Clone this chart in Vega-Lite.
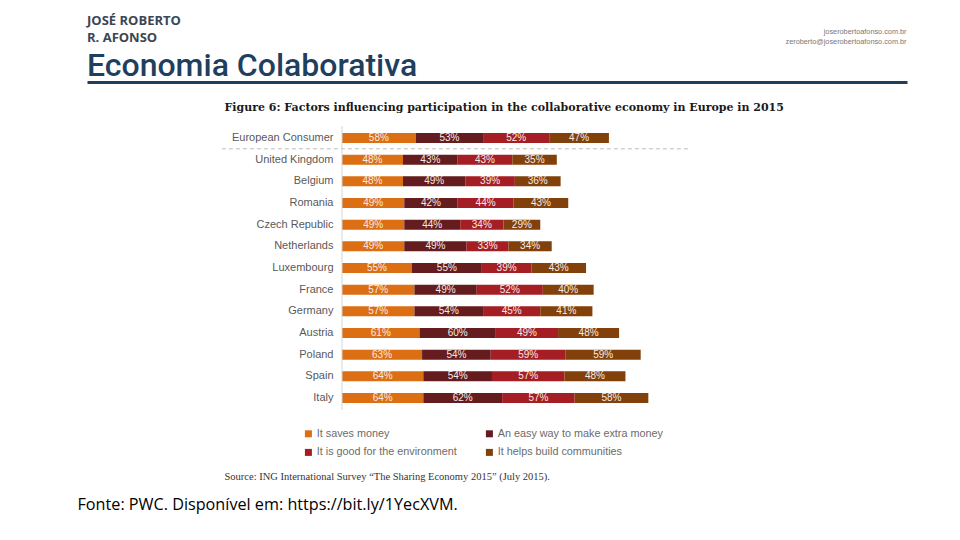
{
  "$schema": "https://vega.github.io/schema/vega-lite/v6.json",
  "width": 820,
  "height": 418,
  "autosize": {"type": "none"},
  "padding": {"left": 87, "top": 82, "right": 53, "bottom": 40},
  "background": "#ffffff",
  "config": {"view": {"stroke": null}},
  "title": {
    "text": ["JOSÉ ROBERTO", "R. AFONSO"],
    "subtitle": "Economia Colaborativa",
    "anchor": "start",
    "frame": "group",
    "font": "Open Sans",
    "fontSize": 13,
    "fontWeight": "bold",
    "color": "#3a4655",
    "lineHeight": 17,
    "subtitleFont": "Roboto",
    "subtitleFontSize": 32,
    "subtitleFontWeight": 500,
    "subtitleColor": "#1f3f5f",
    "subtitlePadding": 6,
    "offset": -55
  },
  "data": {
    "values": [
      {"country": "European Consumer", "factor": "It saves money", "k": 1, "value": 58},
      {"country": "European Consumer", "factor": "An easy way to make extra money", "k": 2, "value": 53},
      {"country": "European Consumer", "factor": "It is good for the environment", "k": 3, "value": 52},
      {"country": "European Consumer", "factor": "It helps build communities", "k": 4, "value": 47},
      {"country": "United Kingdom", "factor": "It saves money", "k": 1, "value": 48},
      {"country": "United Kingdom", "factor": "An easy way to make extra money", "k": 2, "value": 43},
      {"country": "United Kingdom", "factor": "It is good for the environment", "k": 3, "value": 43},
      {"country": "United Kingdom", "factor": "It helps build communities", "k": 4, "value": 35},
      {"country": "Belgium", "factor": "It saves money", "k": 1, "value": 48},
      {"country": "Belgium", "factor": "An easy way to make extra money", "k": 2, "value": 49},
      {"country": "Belgium", "factor": "It is good for the environment", "k": 3, "value": 39},
      {"country": "Belgium", "factor": "It helps build communities", "k": 4, "value": 36},
      {"country": "Romania", "factor": "It saves money", "k": 1, "value": 49},
      {"country": "Romania", "factor": "An easy way to make extra money", "k": 2, "value": 42},
      {"country": "Romania", "factor": "It is good for the environment", "k": 3, "value": 44},
      {"country": "Romania", "factor": "It helps build communities", "k": 4, "value": 43},
      {"country": "Czech Republic", "factor": "It saves money", "k": 1, "value": 49},
      {"country": "Czech Republic", "factor": "An easy way to make extra money", "k": 2, "value": 44},
      {"country": "Czech Republic", "factor": "It is good for the environment", "k": 3, "value": 34},
      {"country": "Czech Republic", "factor": "It helps build communities", "k": 4, "value": 29},
      {"country": "Netherlands", "factor": "It saves money", "k": 1, "value": 49},
      {"country": "Netherlands", "factor": "An easy way to make extra money", "k": 2, "value": 49},
      {"country": "Netherlands", "factor": "It is good for the environment", "k": 3, "value": 33},
      {"country": "Netherlands", "factor": "It helps build communities", "k": 4, "value": 34},
      {"country": "Luxembourg", "factor": "It saves money", "k": 1, "value": 55},
      {"country": "Luxembourg", "factor": "An easy way to make extra money", "k": 2, "value": 55},
      {"country": "Luxembourg", "factor": "It is good for the environment", "k": 3, "value": 39},
      {"country": "Luxembourg", "factor": "It helps build communities", "k": 4, "value": 43},
      {"country": "France", "factor": "It saves money", "k": 1, "value": 57},
      {"country": "France", "factor": "An easy way to make extra money", "k": 2, "value": 49},
      {"country": "France", "factor": "It is good for the environment", "k": 3, "value": 52},
      {"country": "France", "factor": "It helps build communities", "k": 4, "value": 40},
      {"country": "Germany", "factor": "It saves money", "k": 1, "value": 57},
      {"country": "Germany", "factor": "An easy way to make extra money", "k": 2, "value": 54},
      {"country": "Germany", "factor": "It is good for the environment", "k": 3, "value": 45},
      {"country": "Germany", "factor": "It helps build communities", "k": 4, "value": 41},
      {"country": "Austria", "factor": "It saves money", "k": 1, "value": 61},
      {"country": "Austria", "factor": "An easy way to make extra money", "k": 2, "value": 60},
      {"country": "Austria", "factor": "It is good for the environment", "k": 3, "value": 49},
      {"country": "Austria", "factor": "It helps build communities", "k": 4, "value": 48},
      {"country": "Poland", "factor": "It saves money", "k": 1, "value": 63},
      {"country": "Poland", "factor": "An easy way to make extra money", "k": 2, "value": 54},
      {"country": "Poland", "factor": "It is good for the environment", "k": 3, "value": 59},
      {"country": "Poland", "factor": "It helps build communities", "k": 4, "value": 59},
      {"country": "Spain", "factor": "It saves money", "k": 1, "value": 64},
      {"country": "Spain", "factor": "An easy way to make extra money", "k": 2, "value": 54},
      {"country": "Spain", "factor": "It is good for the environment", "k": 3, "value": 57},
      {"country": "Spain", "factor": "It helps build communities", "k": 4, "value": 48},
      {"country": "Italy", "factor": "It saves money", "k": 1, "value": 64},
      {"country": "Italy", "factor": "An easy way to make extra money", "k": 2, "value": 62},
      {"country": "Italy", "factor": "It is good for the environment", "k": 3, "value": 57},
      {"country": "Italy", "factor": "It helps build communities", "k": 4, "value": 58}
    ]
  },
  "resolve": {"axis": {"x": "independent", "y": "independent"}},
  "layer": [
    {
      "mark": {"type": "bar"},
      "encoding": {
        "y": {
          "field": "country", "type": "nominal",
          "sort": ["European Consumer", "United Kingdom", "Belgium", "Romania", "Czech Republic", "Netherlands", "Luxembourg", "France", "Germany", "Austria", "Poland", "Spain", "Italy"],
          "scale": {"domain": ["European Consumer", "United Kingdom", "Belgium", "Romania", "Czech Republic", "Netherlands", "Luxembourg", "France", "Germany", "Austria", "Poland", "Spain", "Italy"], "range": [51, 321], "paddingInner": 0.538, "paddingOuter": 0, "align": 0.5},
          "axis": {
            "orient": "left", "offset": -255, "domain": false, "ticks": false, "grid": false,
            "labelPadding": 9, "labelFont": "Liberation Sans", "labelFontSize": 11, "labelColor": "#595959",
            "title": "Fonte: PWC. Disponível em: https://bit.ly/1YecXVM.",
            "titleAngle": 0, "titleAlign": "left", "titleBaseline": "alphabetic",
            "titleX": -265, "titleY": 427,
            "titleFont": "Open Sans", "titleFontSize": 16.2, "titleFontWeight": "normal", "titleColor": "#000000"
          }
        },
        "x": {
          "field": "value", "type": "quantitative", "stack": "zero",
          "scale": {"domain": [-200.6, 444.5], "nice": false, "zero": false},
          "axis": {
            "orient": "bottom", "domain": false, "ticks": false, "labels": false, "grid": false,
            "title": "Source: ING International Survey “The Sharing Economy 2015” (July 2015).",
            "titleX": 137, "titleY": -21, "titleAlign": "left", "titleBaseline": "alphabetic", "titleAnchor": null,
            "titleFont": "Liberation Serif", "titleFontSize": 10.5, "titleFontWeight": "normal", "titleColor": "#333333"
          }
        },
        "order": {"field": "k", "type": "quantitative"},
        "color": {
          "field": "factor", "type": "nominal",
          "scale": {
            "domain": ["It saves money", "It is good for the environment", "An easy way to make extra money", "It helps build communities"],
            "range": ["#dc6e14", "#a51e23", "#641c1e", "#82410a"]
          },
          "legend": {
            "orient": "none", "legendX": 216, "legendY": 346, "columns": 2, "title": null,
            "symbolType": "square", "symbolSize": 49, "symbolStrokeWidth": 0,
            "labelFont": "Liberation Sans", "labelFontSize": 10.8, "labelColor": "#6b6b6b",
            "labelOffset": 3, "columnPadding": 27, "rowPadding": 7, "labelLimit": 300
          }
        }
      }
    },
    {
      "transform": [
        {"stack": "value", "groupby": ["country"], "sort": [{"field": "k"}], "as": ["v0", "v1"]},
        {"calculate": "(datum.v0 + datum.v1) / 2", "as": "mid"},
        {"calculate": "datum.value + '%'", "as": "label"}
      ],
      "mark": {"type": "text", "font": "Liberation Sans", "fontSize": 10, "color": "#f6ebe6", "baseline": "middle", "align": "center"},
      "encoding": {
        "y": {"field": "country", "type": "nominal", "sort": ["European Consumer", "United Kingdom", "Belgium", "Romania", "Czech Republic", "Netherlands", "Luxembourg", "France", "Germany", "Austria", "Poland", "Spain", "Italy"], "axis": null},
        "x": {"field": "mid", "type": "quantitative", "axis": null},
        "text": {"field": "label", "type": "nominal"}
      }
    },
    {
      "data": {"values": [{}]},
      "mark": {"type": "rule", "color": "#bdbdbd", "strokeWidth": 1, "strokeDash": [4, 3]},
      "encoding": {
        "y": {"datum": "European Consumer", "type": "nominal", "bandPosition": 1.58, "axis": null},
        "x": {"datum": -94.5, "type": "quantitative", "axis": null},
        "x2": {"datum": 274}
      }
    },
    {
      "data": {"values": [{}]},
      "mark": {"type": "rule", "color": "#d6d6d6", "strokeWidth": 1},
      "encoding": {
        "x": {
          "datum": 0, "type": "quantitative",
          "axis": {
            "orient": "top", "domain": true, "domainColor": "#203f5e", "domainWidth": 3,
            "ticks": false, "labels": false, "grid": false,
            "title": "Figure 6: Factors influencing participation in the collaborative economy in Europe in 2015",
            "titleX": 137, "titleY": 28, "titleAlign": "left", "titleBaseline": "alphabetic", "titleAnchor": null,
            "titleFont": "DejaVu Serif", "titleFontSize": 11, "titleFontWeight": "bold", "titleColor": "#1a1a1a"
          }
        },
        "y": {
          "datum": "European Consumer", "type": "nominal", "bandPosition": -0.7,
          "axis": {
            "orient": "right", "domain": false, "ticks": false, "labels": false, "grid": false,
            "title": ["joserobertoafonso.com.br", "zeroberto@joserobertoafonso.com.br"],
            "titleAngle": 0, "titleAlign": "right", "titleBaseline": "alphabetic",
            "titleX": -1, "titleY": -49, "titleLineHeight": 10,
            "titleFont": "Liberation Sans", "titleFontSize": 7.3, "titleFontWeight": "normal", "titleColor": "#777777"
          }
        },
        "y2": {"datum": "Italy", "bandPosition": 1.7}
      }
    }
  ]
}
